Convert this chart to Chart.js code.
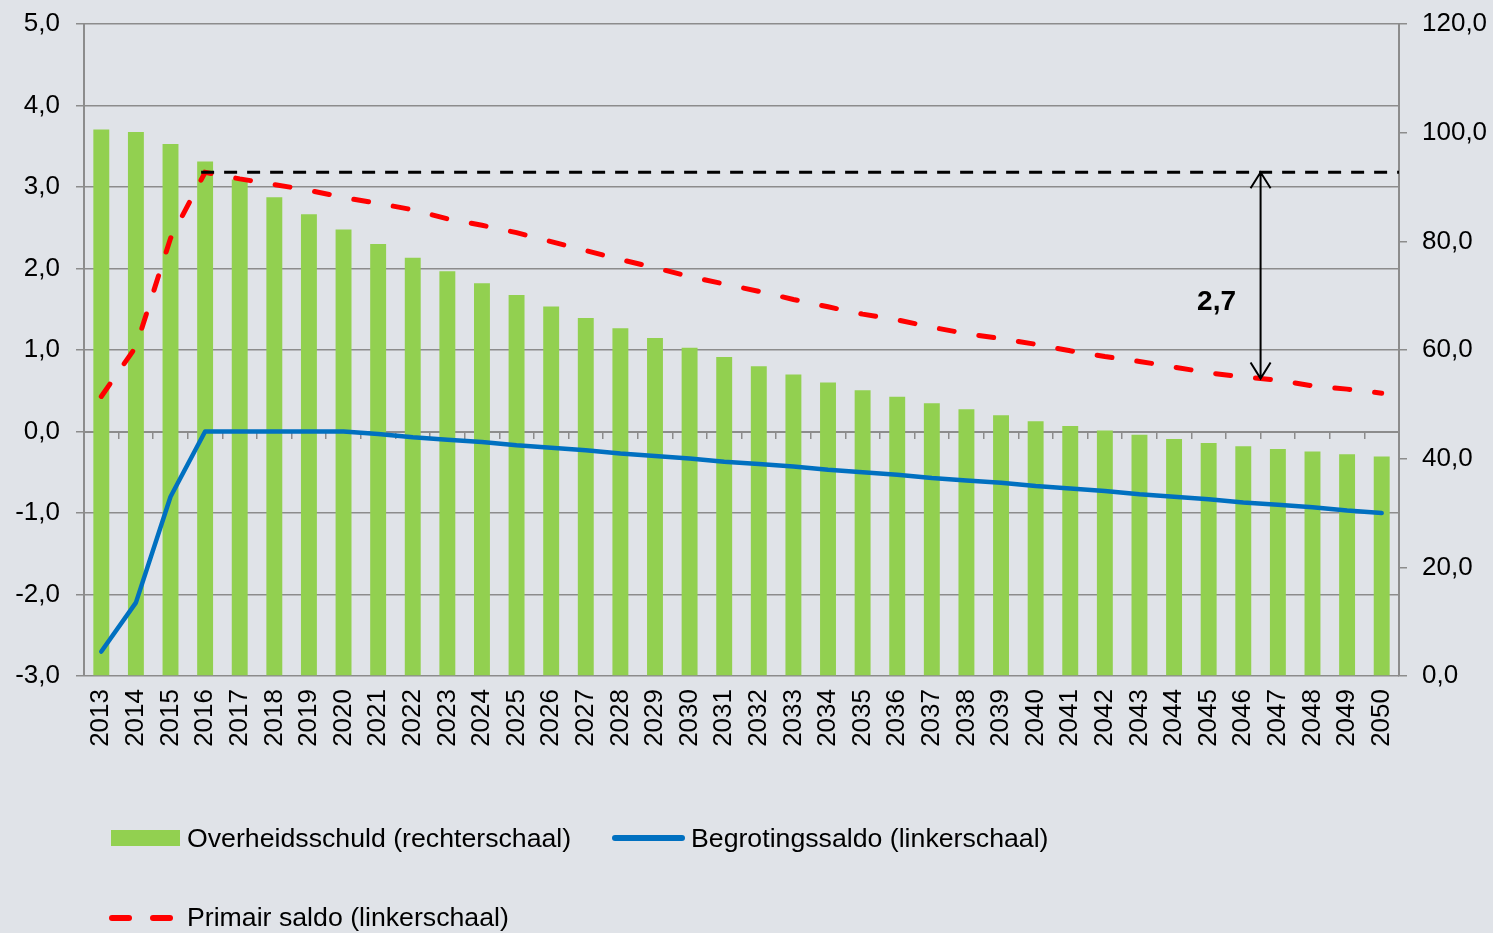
<!DOCTYPE html>
<html lang="nl">
<head>
  <meta charset="UTF-8">
  <title>Overheidsschuld, begrotingssaldo en primair saldo</title>
  <script src="https://cdn.jsdelivr.net/npm/chart.js"></script>
  <style>
    body {
      margin: 0;
      background: rgb(224, 227, 232);
      font-family: 'Liberation Sans', Arial, sans-serif;
    }
    #wrap {
      position: relative;
      width: 1493px;
      height: 933px;
    }
    .leg-text {
      position: absolute;
      font-size: 26.7px;
      color: #000;
      line-height: 30px;
      transform: translateY(-50%);
      white-space: nowrap;
    }
    .sw {
      position: absolute;
    }
  </style>
</head>
<body>
  <div id="wrap">
    <canvas id="chart"></canvas>

    <!-- legend -->
    <div class="sw" style="left:111px; top:830px; width:69px; height:16px; background:#92d050;"></div>
    <div class="leg-text" style="left:187px; top:838px;">Overheidsschuld (rechterschaal)</div>
    <div class="sw" style="left:612px; top:835px; width:73px; height:6px; border-radius:3px; background:#0070c0;"></div>
    <div class="leg-text" style="left:691px; top:838px;">Begrotingssaldo (linkerschaal)</div>
    <div class="sw" style="left:109px; top:915px; width:23px; height:6px; border-radius:3px; background:#ff0000;"></div>
    <div class="sw" style="left:150px; top:915px; width:23px; height:6px; border-radius:3px; background:#ff0000;"></div>
    <div class="leg-text" style="left:187px; top:917px;">Primair saldo (linkerschaal)</div>
  </div>

  <script>
    // years on the x axis
    const years = [
      '2013', '2014', '2015', '2016', '2017', '2018', '2019', '2020', '2021', '2022',
      '2023', '2024', '2025', '2026', '2027', '2028', '2029', '2030', '2031', '2032',
      '2033', '2034', '2035', '2036', '2037', '2038', '2039', '2040', '2041', '2042',
      '2043', '2044', '2045', '2046', '2047', '2048', '2049', '2050'
    ];

    // Overheidsschuld (% bbp, right scale)
    const schuld = [
      100.6, 100.1, 97.9, 94.7, 91.4, 88.1, 85.0, 82.2, 79.5, 77.0,
      74.5, 72.3, 70.1, 68.0, 65.9, 64.0, 62.2, 60.4, 58.7, 57.0,
      55.5, 54.0, 52.6, 51.4, 50.2, 49.1, 48.0, 46.9, 46.0, 45.2,
      44.4, 43.6, 42.9, 42.3, 41.8, 41.3, 40.8, 40.4
    ];

    // Begrotingssaldo (left scale)
    const begrotingssaldo = [
      -2.7, -2.1, -0.8, 0.0, 0.0, 0.0, 0.0, 0.0, -0.03, -0.07,
      -0.10, -0.13, -0.17, -0.20, -0.23, -0.27, -0.30, -0.33, -0.37, -0.40,
      -0.43, -0.47, -0.50, -0.53, -0.57, -0.60, -0.63, -0.67, -0.70, -0.73,
      -0.77, -0.80, -0.83, -0.87, -0.90, -0.93, -0.97, -1.00
    ];

    // Primair saldo (left scale)
    const primairSaldo = [
      0.43, 1.04, 2.37, 3.18, 3.10, 3.03, 2.96, 2.87, 2.80, 2.72,
      2.61, 2.53, 2.44, 2.33, 2.22, 2.11, 2.01, 1.90, 1.81, 1.72,
      1.62, 1.53, 1.44, 1.37, 1.28, 1.20, 1.14, 1.07, 0.99, 0.92,
      0.86, 0.79, 0.72, 0.67, 0.63, 0.56, 0.52, 0.47
    ];

    // reference level (peak primary balance) and the gap marker
    const peakLevel = 3.18;
    const peakStartIndex = 3;      // 2016
    const gapLabel = '2,7';
    const gapBottom = 0.65;
    const gapIndex = 33.5;         // between 2046 and 2047
    const gapLabelValue = 1.58;

    const gridColor = '#8c8c8c';
    const fmt = v => Number(v).toFixed(1).replace('.', ',');

    Chart.defaults.font.family = "'Liberation Sans', Arial, sans-serif";
    Chart.defaults.font.size = 26;
    Chart.defaults.color = '#000';

    // fixed axis size, no extra padding from the tick labels
    const fixSize = (w) => s => {
      s.width = w;
      s.paddingTop = 0;
      s.paddingBottom = 0;
    };

    // dashed peak line, double arrow and label
    const gapPlugin = {
      id: 'gapPlugin',
      afterDatasetsDraw(chart) {
        const ctx = chart.ctx;
        const x = chart.scales.x;
        const y = chart.scales.y;
        const area = chart.chartArea;
        const yPeak = y.getPixelForValue(peakLevel);

        ctx.save();
        ctx.strokeStyle = '#000';
        ctx.lineWidth = 3;
        ctx.setLineDash([13, 10]);
        ctx.beginPath();
        ctx.moveTo(x.getPixelForValue(peakStartIndex) - 4, yPeak);
        ctx.lineTo(area.right, yPeak);
        ctx.stroke();

        const ax = (x.getPixelForValue(Math.floor(gapIndex)) + x.getPixelForValue(Math.ceil(gapIndex))) / 2;
        const yBot = y.getPixelForValue(gapBottom);
        ctx.setLineDash([]);
        ctx.lineWidth = 2;
        ctx.beginPath();
        ctx.moveTo(ax, yPeak);
        ctx.lineTo(ax, yBot);
        // top head
        ctx.moveTo(ax - 10, yPeak + 16);
        ctx.lineTo(ax, yPeak);
        ctx.lineTo(ax + 10, yPeak + 16);
        // bottom head
        ctx.moveTo(ax - 10, yBot - 16);
        ctx.lineTo(ax, yBot);
        ctx.lineTo(ax + 10, yBot - 16);
        ctx.stroke();

        ctx.fillStyle = '#000';
        ctx.font = "bold 28px 'Liberation Sans', Arial, sans-serif";
        ctx.textAlign = 'center';
        ctx.textBaseline = 'middle';
        ctx.fillText(gapLabel, ax - 44, y.getPixelForValue(gapLabelValue));
        ctx.restore();
      }
    };

    const ctx = document.getElementById('chart').getContext('2d');
    const chart = new Chart(ctx, {
      type: 'bar',
      data: {
        labels: years,
        datasets: [
          {
            type: 'line',
            label: 'Primair saldo (linkerschaal)',
            data: primairSaldo,
            yAxisID: 'y',
            borderColor: '#ff0000',
            borderWidth: 5,
            borderDash: [15, 25],
            borderCapStyle: 'round',
            pointRadius: 0,
            tension: 0,
            order: 1
          },
          {
            type: 'line',
            label: 'Begrotingssaldo (linkerschaal)',
            data: begrotingssaldo,
            yAxisID: 'y',
            borderColor: '#0070c0',
            borderWidth: 4.5,
            borderCapStyle: 'round',
            borderJoinStyle: 'round',
            pointRadius: 0,
            tension: 0,
            order: 2
          },
          {
            label: 'Overheidsschuld (rechterschaal)',
            data: schuld,
            yAxisID: 'y1',
            backgroundColor: '#92d050',
            barPercentage: 0.46,
            categoryPercentage: 1.0,
            order: 3
          }
        ]
      },
      options: {
        responsive: true,
        maintainAspectRatio: false,
        animation: false,
        layout: { padding: { top: 24, left: 0, right: 0, bottom: 0 } },
        plugins: {
          legend: { display: false },
          tooltip: { enabled: false }
        },
        scales: {
          x: {
            grid: { display: false, drawTicks: false },
            border: { display: false },
            ticks: {
              autoSkip: false,
              minRotation: 90,
              maxRotation: 90,
              padding: 13
            },
            afterFit: s => { s.height = 257; }
          },
          // axis line through zero with small tick marks
          x2: {
            type: 'category',
            position: { y: 0 },
            offset: true,
            grid: {
              display: true,
              offset: true,
              drawOnChartArea: false,
              drawTicks: true,
              tickLength: 6,
              color: gridColor,
              lineWidth: 1.5
            },
            border: { display: true, color: gridColor, width: 2 },
            ticks: { display: false }
          },
          y: {
            position: 'left',
            min: -3,
            max: 5,
            ticks: { stepSize: 1, padding: 16, callback: fmt },
            grid: { color: gridColor, lineWidth: 1.5, tickLength: 8 },
            border: { color: gridColor, width: 2 },
            afterFit: fixSize(84)
          },
          y1: {
            position: 'right',
            min: 0,
            max: 120,
            ticks: { stepSize: 20, padding: 15, callback: fmt },
            grid: { drawOnChartArea: false, color: gridColor, lineWidth: 1.5, tickLength: 8 },
            border: { color: gridColor, width: 2 },
            afterFit: fixSize(94)
          }
        }
      },
      plugins: [gapPlugin]
    });
  </script>
</body>
</html>
